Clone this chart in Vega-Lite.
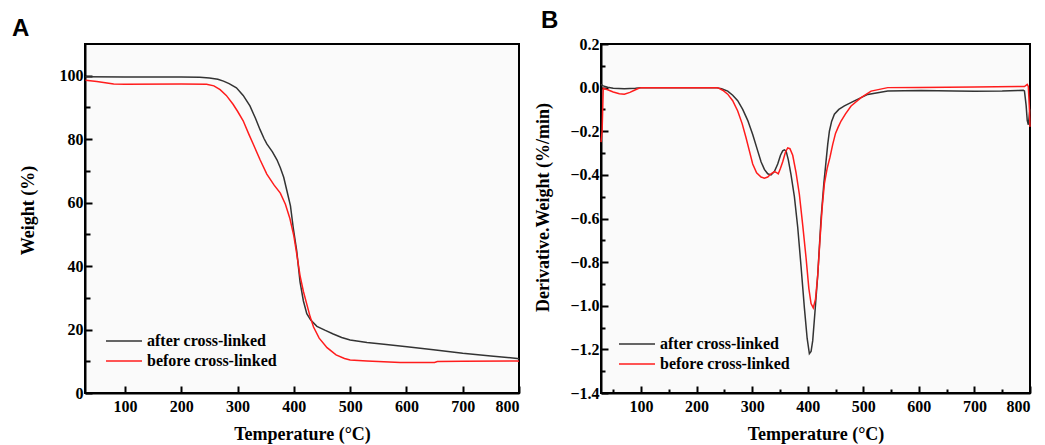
{
  "$schema": "https://vega.github.io/schema/vega-lite/v6.json",
  "background": "white",
  "padding": {"left": 11, "top": 8, "right": 2, "bottom": 0},
  "datasets": {
    "tga": [
      {"T":30,"v":99.7,"s":"after cross-linked"},{"T":100,"v":99.6,"s":"after cross-linked"},{"T":200,"v":99.6,"s":"after cross-linked"},{"T":233,"v":99.5,"s":"after cross-linked"},{"T":250,"v":99.3,"s":"after cross-linked"},{"T":265,"v":98.9,"s":"after cross-linked"},{"T":275,"v":98.3,"s":"after cross-linked"},{"T":285,"v":97.5,"s":"after cross-linked"},{"T":298,"v":96.2,"s":"after cross-linked"},{"T":310,"v":93.8,"s":"after cross-linked"},{"T":322,"v":90.5,"s":"after cross-linked"},{"T":332,"v":86.5,"s":"after cross-linked"},{"T":340,"v":83,"s":"after cross-linked"},{"T":347,"v":80.2,"s":"after cross-linked"},{"T":352,"v":78.5,"s":"after cross-linked"},{"T":362,"v":76,"s":"after cross-linked"},{"T":370,"v":73.5,"s":"after cross-linked"},{"T":376,"v":71,"s":"after cross-linked"},{"T":382,"v":68,"s":"after cross-linked"},{"T":388,"v":63.5,"s":"after cross-linked"},{"T":394,"v":59,"s":"after cross-linked"},{"T":399,"v":52,"s":"after cross-linked"},{"T":405,"v":45,"s":"after cross-linked"},{"T":411,"v":35,"s":"after cross-linked"},{"T":417,"v":29,"s":"after cross-linked"},{"T":423,"v":25,"s":"after cross-linked"},{"T":430,"v":23,"s":"after cross-linked"},{"T":441,"v":21,"s":"after cross-linked"},{"T":455,"v":19.8,"s":"after cross-linked"},{"T":470,"v":18.6,"s":"after cross-linked"},{"T":485,"v":17.5,"s":"after cross-linked"},{"T":500,"v":16.7,"s":"after cross-linked"},{"T":530,"v":15.9,"s":"after cross-linked"},{"T":560,"v":15.4,"s":"after cross-linked"},{"T":601,"v":14.6,"s":"after cross-linked"},{"T":648,"v":13.6,"s":"after cross-linked"},{"T":700,"v":12.5,"s":"after cross-linked"},{"T":750,"v":11.7,"s":"after cross-linked"},{"T":797,"v":10.9,"s":"after cross-linked"},{"T":800,"v":10.8,"s":"after cross-linked"},
      {"T":30,"v":98.6,"s":"before cross-linked"},{"T":50,"v":98.2,"s":"before cross-linked"},{"T":80,"v":97.4,"s":"before cross-linked"},{"T":100,"v":97.3,"s":"before cross-linked"},{"T":200,"v":97.4,"s":"before cross-linked"},{"T":245,"v":97.3,"s":"before cross-linked"},{"T":258,"v":96.8,"s":"before cross-linked"},{"T":269,"v":95.6,"s":"before cross-linked"},{"T":280,"v":93.8,"s":"before cross-linked"},{"T":292,"v":91,"s":"before cross-linked"},{"T":300,"v":88.8,"s":"before cross-linked"},{"T":310,"v":85.8,"s":"before cross-linked"},{"T":320,"v":81.6,"s":"before cross-linked"},{"T":328,"v":78.4,"s":"before cross-linked"},{"T":340,"v":73.5,"s":"before cross-linked"},{"T":352,"v":69,"s":"before cross-linked"},{"T":365,"v":65.5,"s":"before cross-linked"},{"T":376,"v":63,"s":"before cross-linked"},{"T":385,"v":59.5,"s":"before cross-linked"},{"T":393,"v":55,"s":"before cross-linked"},{"T":400,"v":49.5,"s":"before cross-linked"},{"T":405,"v":44,"s":"before cross-linked"},{"T":411,"v":37,"s":"before cross-linked"},{"T":417,"v":32,"s":"before cross-linked"},{"T":423,"v":28,"s":"before cross-linked"},{"T":429,"v":24,"s":"before cross-linked"},{"T":435,"v":20.8,"s":"before cross-linked"},{"T":445,"v":17.3,"s":"before cross-linked"},{"T":459,"v":14.3,"s":"before cross-linked"},{"T":475,"v":12,"s":"before cross-linked"},{"T":490,"v":10.9,"s":"before cross-linked"},{"T":500,"v":10.4,"s":"before cross-linked"},{"T":530,"v":10.1,"s":"before cross-linked"},{"T":589,"v":9.6,"s":"before cross-linked"},{"T":650,"v":9.6,"s":"before cross-linked"},{"T":655,"v":9.9,"s":"before cross-linked"},{"T":700,"v":10,"s":"before cross-linked"},{"T":797,"v":10.1,"s":"before cross-linked"},{"T":800,"v":10,"s":"before cross-linked"}
    ],
    "dtg": [
      {"T":28,"v":0.015,"s":"after cross-linked"},{"T":32,"v":0.008,"s":"after cross-linked"},{"T":40,"v":0.002,"s":"after cross-linked"},{"T":50,"v":-0.003,"s":"after cross-linked"},{"T":70,"v":-0.005,"s":"after cross-linked"},{"T":90,"v":-0.003,"s":"after cross-linked"},{"T":100,"v":0,"s":"after cross-linked"},{"T":200,"v":0,"s":"after cross-linked"},{"T":235,"v":0,"s":"after cross-linked"},{"T":245,"v":-0.005,"s":"after cross-linked"},{"T":256,"v":-0.016,"s":"after cross-linked"},{"T":265,"v":-0.035,"s":"after cross-linked"},{"T":274,"v":-0.06,"s":"after cross-linked"},{"T":283,"v":-0.1,"s":"after cross-linked"},{"T":292,"v":-0.15,"s":"after cross-linked"},{"T":301,"v":-0.215,"s":"after cross-linked"},{"T":310,"v":-0.29,"s":"after cross-linked"},{"T":316,"v":-0.34,"s":"after cross-linked"},{"T":322,"v":-0.375,"s":"after cross-linked"},{"T":328,"v":-0.395,"s":"after cross-linked"},{"T":334,"v":-0.4,"s":"after cross-linked"},{"T":340,"v":-0.385,"s":"after cross-linked"},{"T":346,"v":-0.35,"s":"after cross-linked"},{"T":351,"v":-0.31,"s":"after cross-linked"},{"T":355,"v":-0.29,"s":"after cross-linked"},{"T":358,"v":-0.285,"s":"after cross-linked"},{"T":361,"v":-0.29,"s":"after cross-linked"},{"T":365,"v":-0.33,"s":"after cross-linked"},{"T":370,"v":-0.4,"s":"after cross-linked"},{"T":376,"v":-0.5,"s":"after cross-linked"},{"T":382,"v":-0.64,"s":"after cross-linked"},{"T":388,"v":-0.82,"s":"after cross-linked"},{"T":394,"v":-1.01,"s":"after cross-linked"},{"T":399,"v":-1.15,"s":"after cross-linked"},{"T":403,"v":-1.22,"s":"after cross-linked"},{"T":406,"v":-1.21,"s":"after cross-linked"},{"T":409,"v":-1.16,"s":"after cross-linked"},{"T":413,"v":-1.03,"s":"after cross-linked"},{"T":418,"v":-0.86,"s":"after cross-linked"},{"T":424,"v":-0.6,"s":"after cross-linked"},{"T":429,"v":-0.44,"s":"after cross-linked"},{"T":433,"v":-0.337,"s":"after cross-linked"},{"T":436,"v":-0.26,"s":"after cross-linked"},{"T":439,"v":-0.2,"s":"after cross-linked"},{"T":443,"v":-0.155,"s":"after cross-linked"},{"T":448,"v":-0.122,"s":"after cross-linked"},{"T":456,"v":-0.1,"s":"after cross-linked"},{"T":466,"v":-0.084,"s":"after cross-linked"},{"T":484,"v":-0.061,"s":"after cross-linked"},{"T":508,"v":-0.031,"s":"after cross-linked"},{"T":544,"v":-0.016,"s":"after cross-linked"},{"T":604,"v":-0.013,"s":"after cross-linked"},{"T":664,"v":-0.016,"s":"after cross-linked"},{"T":700,"v":-0.017,"s":"after cross-linked"},{"T":750,"v":-0.016,"s":"after cross-linked"},{"T":779,"v":-0.013,"s":"after cross-linked"},{"T":788,"v":-0.012,"s":"after cross-linked"},{"T":790,"v":-0.015,"s":"after cross-linked"},{"T":793,"v":-0.08,"s":"after cross-linked"},{"T":795,"v":-0.15,"s":"after cross-linked"},{"T":797,"v":-0.17,"s":"after cross-linked"},{"T":799,"v":-0.12,"s":"after cross-linked"},{"T":800,"v":-0.1,"s":"after cross-linked"},
      {"T":28,"v":-0.25,"s":"before cross-linked"},{"T":30,"v":-0.2,"s":"before cross-linked"},{"T":32,"v":-0.003,"s":"before cross-linked"},{"T":40,"v":-0.01,"s":"before cross-linked"},{"T":50,"v":-0.02,"s":"before cross-linked"},{"T":61,"v":-0.028,"s":"before cross-linked"},{"T":70,"v":-0.03,"s":"before cross-linked"},{"T":80,"v":-0.022,"s":"before cross-linked"},{"T":88,"v":-0.012,"s":"before cross-linked"},{"T":95,"v":-0.004,"s":"before cross-linked"},{"T":100,"v":0,"s":"before cross-linked"},{"T":200,"v":0,"s":"before cross-linked"},{"T":238,"v":0,"s":"before cross-linked"},{"T":247,"v":-0.012,"s":"before cross-linked"},{"T":256,"v":-0.03,"s":"before cross-linked"},{"T":265,"v":-0.06,"s":"before cross-linked"},{"T":274,"v":-0.107,"s":"before cross-linked"},{"T":282,"v":-0.165,"s":"before cross-linked"},{"T":289,"v":-0.23,"s":"before cross-linked"},{"T":295,"v":-0.29,"s":"before cross-linked"},{"T":301,"v":-0.35,"s":"before cross-linked"},{"T":308,"v":-0.39,"s":"before cross-linked"},{"T":316,"v":-0.41,"s":"before cross-linked"},{"T":322,"v":-0.415,"s":"before cross-linked"},{"T":328,"v":-0.41,"s":"before cross-linked"},{"T":334,"v":-0.395,"s":"before cross-linked"},{"T":340,"v":-0.385,"s":"before cross-linked"},{"T":344,"v":-0.39,"s":"before cross-linked"},{"T":347,"v":-0.395,"s":"before cross-linked"},{"T":351,"v":-0.37,"s":"before cross-linked"},{"T":355,"v":-0.34,"s":"before cross-linked"},{"T":360,"v":-0.295,"s":"before cross-linked"},{"T":364,"v":-0.276,"s":"before cross-linked"},{"T":368,"v":-0.28,"s":"before cross-linked"},{"T":373,"v":-0.31,"s":"before cross-linked"},{"T":379,"v":-0.39,"s":"before cross-linked"},{"T":385,"v":-0.49,"s":"before cross-linked"},{"T":391,"v":-0.63,"s":"before cross-linked"},{"T":397,"v":-0.78,"s":"before cross-linked"},{"T":402,"v":-0.92,"s":"before cross-linked"},{"T":406,"v":-0.99,"s":"before cross-linked"},{"T":410,"v":-1.01,"s":"before cross-linked"},{"T":414,"v":-0.97,"s":"before cross-linked"},{"T":418,"v":-0.86,"s":"before cross-linked"},{"T":422,"v":-0.7,"s":"before cross-linked"},{"T":426,"v":-0.55,"s":"before cross-linked"},{"T":430,"v":-0.44,"s":"before cross-linked"},{"T":435,"v":-0.37,"s":"before cross-linked"},{"T":440,"v":-0.32,"s":"before cross-linked"},{"T":445,"v":-0.26,"s":"before cross-linked"},{"T":450,"v":-0.21,"s":"before cross-linked"},{"T":455,"v":-0.18,"s":"before cross-linked"},{"T":460,"v":-0.153,"s":"before cross-linked"},{"T":468,"v":-0.12,"s":"before cross-linked"},{"T":478,"v":-0.084,"s":"before cross-linked"},{"T":496,"v":-0.046,"s":"before cross-linked"},{"T":514,"v":-0.016,"s":"before cross-linked"},{"T":544,"v":0,"s":"before cross-linked"},{"T":600,"v":0.001,"s":"before cross-linked"},{"T":700,"v":0.003,"s":"before cross-linked"},{"T":790,"v":0.005,"s":"before cross-linked"},{"T":795,"v":0.015,"s":"before cross-linked"},{"T":797,"v":0.005,"s":"before cross-linked"},{"T":799,"v":-0.1,"s":"before cross-linked"},{"T":800,"v":-0.18,"s":"before cross-linked"}
    ]
  },
  "config": {
    "view": {"stroke": "black", "strokeWidth": 2, "fill": "#fafafa"},
    "axis": {
      "grid": false, "domainColor": "black", "domainWidth": 2, "tickColor": "black", "tickWidth": 2,
      "labelFont": "Liberation Serif", "labelFontWeight": "bold", "labelFontSize": 16, "labelColor": "black",
      "titleFont": "Liberation Serif", "titleFontWeight": "bold", "titleFontSize": 18, "titleColor": "black"
    },
    "legend": {
      "orient": "none", "title": null, "symbolType": "M-1,0H3.5", "symbolSize": 256, "symbolStrokeWidth": 1.5,
      "labelFont": "Liberation Serif", "labelFontWeight": "bold", "labelFontSize": 16, "labelColor": "black",
      "labelOffset": 24, "rowPadding": 3
    },
    "title": {"font": "Liberation Sans", "fontSize": 24, "fontWeight": "bold", "color": "black", "anchor": "start", "frame": "group", "baseline": "alphabetic"}
  },
  "spacing": 10,
  "resolve": {"scale": {"color": "independent"}, "legend": {"color": "independent"}},
  "hconcat": [
    {
      "title": {"text": "A", "dx": -73, "offset": 3},
      "width": 434, "height": 349,
      "data": {"name": "tga"},
      "mark": {"type": "line", "strokeWidth": 1.5},
      "encoding": {
        "x": {"field": "T", "type": "quantitative", "title": "Temperature (°C)",
              "scale": {"domain": [29, 800], "nice": false, "zero": false},
              "axis": {"values": [100, 200, 300, 400, 500, 600, 700, 800], "tickSize": -7, "labelPadding": 12, "titlePadding": 11, "format": "d"}},
        "y": {"field": "v", "type": "quantitative", "title": "Weight (%)",
              "scale": {"domain": [0, 110], "nice": false},
              "axis": {"values": [0, 10, 20, 30, 40, 50, 60, 70, 80, 90, 100], "format": "d",
                       "labelExpr": "datum.value % 20 === 0 ? datum.label : ''",
                       "tickSize": {"condition": {"test": "datum.value % 20 !== 0", "value": -5}, "value": -7},
                       "labelPadding": 9, "titlePadding": 22, "titleY": 166}},
        "color": {"field": "s", "type": "nominal",
                  "scale": {"domain": ["after cross-linked", "before cross-linked"], "range": ["#333333", "#ff1c1c"]},
                  "legend": {"legendX": 20, "legendY": 288}}
      }
    },
    {
      "title": {"text": "B", "dx": -60, "offset": 3},
      "width": 429, "height": 349,
      "data": {"name": "dtg"},
      "mark": {"type": "line", "strokeWidth": 1.5},
      "encoding": {
        "x": {"field": "T", "type": "quantitative", "title": "Temperature (°C)",
              "scale": {"domain": [28, 800], "nice": false, "zero": false},
              "axis": {"values": [50, 100, 150, 200, 250, 300, 350, 400, 450, 500, 550, 600, 650, 700, 750, 800], "format": "d",
                       "labelExpr": "datum.value % 100 === 0 ? datum.label : ''",
                       "tickSize": {"condition": {"test": "datum.value % 100 !== 0", "value": -4}, "value": -7},
                       "labelPadding": 12, "titlePadding": 11}},
        "y": {"field": "v", "type": "quantitative", "title": "Derivative.Weight (%/min)",
              "scale": {"domain": [-1.4, 0.2], "nice": false, "zero": false},
              "axis": {"values": [-1.4, -1.3, -1.2, -1.1, -1.0, -0.9, -0.8, -0.7, -0.6, -0.5, -0.4, -0.3, -0.2, -0.1, 0.0, 0.1, 0.2], "format": ".1f",
                       "labelExpr": "abs(round(datum.value * 10)) % 2 === 0 ? datum.label : ''",
                       "tickSize": {"condition": {"test": "abs(round(datum.value * 10)) % 2 !== 0", "value": -4}, "value": -7},
                       "labelPadding": 9, "titlePadding": 17, "titleY": 163}},
        "color": {"field": "s", "type": "nominal",
                  "scale": {"domain": ["after cross-linked", "before cross-linked"], "range": ["#333333", "#ff1c1c"]},
                  "legend": {"legendX": 17, "legendY": 291}}
      }
    }
  ]
}
